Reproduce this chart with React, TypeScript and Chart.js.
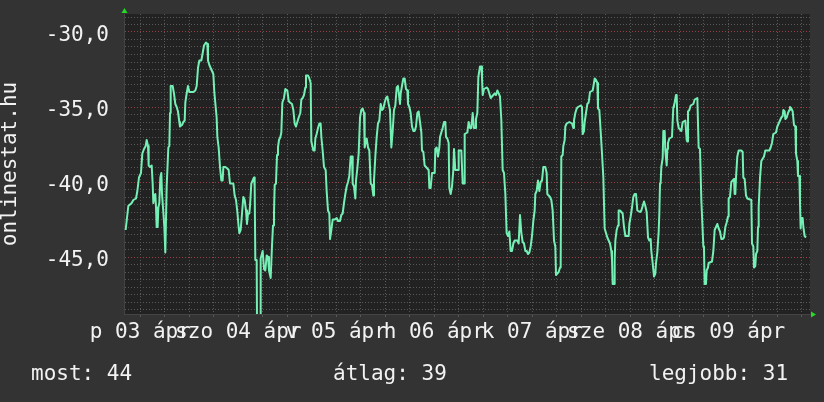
import React, { useEffect, useRef } from 'react';
import { Chart, registerables } from 'chart.js';

Chart.register(...registerables);

// hours since 03 Apr 08:00 (the left edge of the week shown)
const HOURS = [
  0.4, 0.65, 1.06, 1.88, 2.29, 2.94, 3.27, 3.67, 4.16, 4.49, 4.9, 5.31, 5.55, 5.88, 6.04, 6.37, 6.78, 7.02, 7.18, 7.43,
  7.67, 7.84, 8.0, 8.24, 8.41, 8.65, 8.9, 9.14, 9.31, 9.63, 9.88, 10.12, 10.45, 10.86, 11.1, 11.27, 11.43, 11.92, 12.24, 12.57,
  12.9, 13.22, 13.55, 13.71, 14.2, 14.53, 14.86, 15.02, 15.35, 15.67, 16.0, 16.49, 16.98, 17.47, 17.8, 18.12, 18.45, 18.94, 19.27, 19.59,
  20.08, 20.41, 20.57, 20.9, 21.22, 21.55, 21.88, 22.12, 22.45, 22.69, 22.86, 23.18, 23.51, 23.84, 24.16, 24.33, 24.82, 25.31, 25.63, 25.96,
  26.78, 27.1, 27.43, 27.76, 28.08, 28.24, 28.57, 28.9, 29.22, 29.55, 29.88, 30.12, 30.37, 30.69, 30.86, 31.18, 31.51, 31.84, 32.0, 32.16,
  32.49, 32.6, 33.35, 33.47, 33.96, 34.29, 34.61, 34.94, 35.27, 35.51, 35.92, 36.24, 36.49, 36.73, 36.9, 37.22, 37.47, 37.71, 37.96, 38.29,
  38.53, 38.78, 39.18, 39.51, 40.0, 40.33, 40.65, 41.14, 41.47, 41.8, 42.12, 42.45, 42.78, 43.18, 43.43, 43.76, 44.08, 44.41, 44.57, 45.06,
  45.39, 45.71, 45.88, 46.37, 46.69, 46.86, 47.18, 47.51, 47.84, 48.16, 48.33, 48.65, 48.98, 49.39, 49.63, 49.96, 50.29, 50.45, 50.78, 51.1,
  51.59, 52.08, 52.41, 52.9, 53.22, 53.55, 53.88, 54.2, 54.53, 54.86, 55.18, 55.51, 55.84, 56.0, 56.33, 56.65, 56.82, 57.14, 57.47, 57.8,
  58.12, 58.45, 58.78, 58.94, 59.27, 59.43, 59.76, 60.08, 60.41, 60.73, 61.06, 61.22, 61.55, 61.88, 62.2, 62.53, 62.86, 63.18, 63.51, 63.84,
  64.16, 64.49, 64.82, 65.14, 65.47, 65.8, 66.12, 66.45, 66.78, 67.1, 67.59, 67.76, 68.08, 68.41, 68.73, 69.06, 69.39, 69.55, 69.88, 70.2,
  70.53, 70.86, 71.18, 71.51, 71.84, 72.16, 72.49, 72.82, 72.98, 73.31, 73.63, 73.96, 74.61, 74.78, 75.1, 75.43, 76.08, 76.24, 76.57, 76.9,
  77.22, 77.39, 77.71, 78.04, 78.37, 78.69, 78.86, 79.18, 79.51, 79.67, 80.0, 80.33, 80.65, 80.82, 81.14, 81.8, 81.96, 82.61, 82.94, 83.27,
  83.43, 84.08, 84.41, 84.73, 85.06, 85.39, 85.71, 86.04, 86.2, 86.53, 86.78, 87.18, 87.51, 87.67, 87.84, 88.16, 88.82, 89.14, 89.47, 89.8,
  90.12, 90.45, 90.78, 91.1, 91.43, 91.76, 92.08, 92.41, 92.73, 93.06, 93.39, 93.71, 94.04, 94.37, 94.69, 95.02, 95.35, 95.67, 96.33, 96.65,
  96.98, 97.31, 97.63, 97.96, 98.29, 98.61, 98.94, 99.27, 99.59, 99.92, 100.24, 100.57, 100.73, 101.06, 101.39, 101.71, 102.04, 102.37, 102.69, 103.18,
  103.51, 103.67, 104.33, 104.65, 104.98, 105.31, 105.63, 105.8, 106.12, 106.45, 106.78, 106.94, 107.1, 107.43, 107.59, 107.92, 108.08, 108.41, 109.06, 109.71,
  110.04, 110.2, 110.53, 110.86, 111.18, 111.84, 112.16, 112.33, 112.65, 112.82, 113.14, 113.47, 113.8, 114.12, 114.78, 115.1, 115.27, 115.59, 115.92, 116.08,
  116.41, 116.73, 117.06, 117.39, 117.71, 118.04, 118.37, 118.69, 119.02, 119.35, 119.51, 119.67, 120.0, 120.16, 120.33, 120.65, 120.98, 121.14, 121.47, 121.8,
  122.12, 122.45, 122.78, 123.59, 123.76, 124.08, 124.41, 124.73, 125.06, 125.39, 125.71, 126.37, 126.69, 127.02, 127.35, 127.67, 128.0, 128.33, 128.65, 128.98,
  129.14, 129.47, 129.8, 130.12, 130.29, 130.61, 130.94, 131.1, 131.27, 131.43, 131.59, 131.92, 132.08, 132.41, 132.57, 132.9, 133.06, 133.22, 133.55, 134.2,
  134.53, 134.69, 134.86, 135.18, 135.35, 135.51, 135.84, 136.49, 136.82, 137.47, 137.8, 137.96, 138.12, 138.45, 138.78, 139.43, 139.76, 140.41, 140.73, 141.06,
  141.39, 141.55, 141.88, 142.04, 142.2, 142.53, 142.69, 143.02, 143.18, 144.0, 144.33, 144.65, 144.98, 145.31, 145.63, 145.96, 146.29, 146.61, 146.94, 147.27,
  147.59, 147.92, 148.08, 148.41, 148.73, 149.39, 149.55, 149.71, 149.88, 150.2, 150.53, 151.18, 151.51, 151.67, 152.0, 152.33, 152.65, 153.63, 153.8, 154.12,
  154.29, 154.61, 154.78, 155.1, 155.27, 155.43, 155.76, 155.92, 156.08, 156.73, 157.06, 158.04, 158.37, 158.69, 159.02, 159.67, 160.0, 160.33, 160.65, 160.98,
  161.31, 161.47, 161.8, 161.96, 162.29, 162.61, 162.94, 163.1, 163.43, 163.76, 164.08, 164.41, 164.57, 164.9, 165.06, 165.39, 165.55, 165.71, 165.88, 166.2,
  166.37, 166.69, 167.02,
];

// negative rank
const RANKS = [
  -43.2, -42.6, -41.6, -41.4, -41.2, -41.1, -40.6, -39.7, -39.4, -38.1, -37.8, -37.6, -37.2, -37.6, -38.9, -39.0, -38.9, -40.1, -41.4, -40.9,
  -40.8, -41.7, -43.0, -43.0, -41.7, -41.4, -39.7, -39.4, -40.8, -42.0, -43.0, -44.7, -40.3, -37.7, -37.6, -35.4, -33.6, -33.6, -34.1, -34.8,
  -35.0, -35.3, -36.0, -36.3, -36.2, -36.0, -35.9, -34.7, -34.1, -33.6, -34.0, -34.0, -34.0, -33.9, -33.6, -32.4, -31.9, -31.9, -31.4, -30.9,
  -30.7, -30.8, -31.9, -32.2, -32.4, -32.6, -32.8, -34.0, -35.0, -35.7, -37.0, -37.7, -39.0, -39.9, -39.9, -39.0, -39.0, -39.1, -39.2, -40.1,
  -40.1, -40.9, -41.2, -42.0, -43.0, -43.4, -43.2, -42.1, -41.0, -41.2, -41.9, -42.8, -42.1, -42.1, -41.6, -40.1, -39.9, -39.7, -40.3, -45.2,
  -45.2, -50.5, -50.5, -45.1, -44.6, -45.8, -45.9, -44.9, -45.0, -45.9, -46.4, -44.3, -42.9, -42.1, -40.2, -40.1, -38.2, -37.7, -37.2, -37.0,
  -36.7, -34.7, -34.4, -33.8, -33.9, -34.6, -34.7, -34.8, -35.2, -36.1, -36.3, -36.0, -35.7, -35.4, -34.5, -34.4, -34.2, -33.7, -32.9, -32.9,
  -33.1, -33.4, -37.3, -37.9, -37.9, -37.1, -36.8, -36.4, -36.1, -36.1, -37.0, -37.9, -39.0, -39.2, -40.6, -41.9, -42.1, -43.8, -43.2, -42.5,
  -42.5, -42.4, -42.6, -42.6, -42.2, -42.1, -41.4, -40.8, -40.3, -40.0, -39.6, -38.3, -38.3, -40.1, -40.3, -41.1, -39.9, -39.1, -38.1, -35.7,
  -35.2, -35.1, -35.4, -37.7, -37.2, -37.1, -37.7, -37.9, -40.1, -40.2, -40.9, -39.9, -38.3, -37.0, -36.1, -35.9, -34.8, -35.2, -35.1, -34.7,
  -34.4, -34.3, -34.8, -35.2, -37.7, -36.6, -35.2, -34.9, -33.7, -33.6, -34.8, -34.1, -33.6, -33.1, -33.1, -33.8, -33.9, -34.8, -35.0, -35.4,
  -36.3, -36.6, -36.6, -36.3, -35.4, -35.3, -36.0, -36.7, -37.9, -38.0, -38.9, -39.0, -39.2, -40.4, -40.4, -39.4, -39.4, -37.8, -37.7, -38.3,
  -37.7, -37.0, -36.7, -36.4, -36.0, -36.0, -37.0, -37.1, -37.4, -40.4, -40.8, -40.3, -39.2, -37.8, -39.2, -39.2, -37.9, -37.9, -40.1, -40.1,
  -36.8, -36.7, -36.0, -36.4, -36.4, -35.4, -36.4, -36.4, -35.8, -35.4, -33.0, -32.3, -32.3, -33.0, -34.2, -33.8, -33.7, -33.8, -34.1, -34.4,
  -34.3, -34.2, -34.1, -34.2, -33.9, -34.1, -34.3, -35.9, -39.2, -39.4, -40.8, -43.4, -43.6, -43.3, -44.6, -44.6, -44.1, -43.9, -43.9, -44.1,
  -42.2, -43.4, -44.0, -44.1, -44.6, -44.6, -44.8, -44.7, -44.3, -43.6, -42.6, -41.9, -40.8, -40.6, -39.9, -40.6, -40.0, -39.9, -39.0, -39.0,
  -39.4, -40.8, -41.0, -41.2, -41.9, -43.9, -44.3, -46.2, -46.1, -46.0, -45.7, -45.4, -38.3, -38.2, -37.6, -37.2, -36.3, -36.1, -36.0, -36.1,
  -36.4, -35.9, -35.4, -35.1, -35.0, -34.9, -35.0, -36.8, -36.6, -36.0, -35.4, -34.8, -34.7, -34.0, -33.9, -33.4, -33.1, -33.2, -33.4, -35.1,
  -35.2, -36.6, -38.1, -39.7, -43.1, -43.4, -43.7, -43.9, -44.1, -44.6, -45.2, -46.8, -46.8, -45.2, -43.9, -43.2, -42.9, -41.9, -41.9, -42.0,
  -42.1, -43.0, -43.6, -43.6, -42.8, -42.3, -41.7, -41.0, -40.8, -40.8, -41.9, -42.0, -41.9, -41.6, -41.3, -41.6, -42.0, -43.7, -43.9, -43.8,
  -44.6, -45.4, -46.3, -46.1, -45.4, -44.7, -43.3, -42.1, -40.1, -40.0, -39.0, -38.4, -36.6, -36.6, -37.9, -38.9, -37.8, -37.4, -37.1, -37.0,
  -35.0, -34.9, -34.7, -34.2, -34.2, -35.9, -36.4, -36.6, -36.0, -35.9, -37.2, -37.3, -35.3, -35.2, -34.9, -34.8, -34.5, -34.4, -37.7, -37.8,
  -41.2, -41.2, -44.3, -44.4, -46.8, -46.8, -45.9, -45.7, -45.4, -45.3, -44.6, -43.2, -43.0, -42.8, -43.1, -43.3, -43.8, -43.8, -43.7, -43.0,
  -42.7, -42.3, -41.1, -41.0, -40.0, -39.8, -40.8, -40.8, -39.7, -38.3, -37.9, -37.9, -38.0, -39.7, -39.8, -40.9, -41.1, -41.2, -44.1, -44.3,
  -45.7, -45.6, -44.8, -44.6, -43.0, -41.7, -39.7, -39.7, -38.6, -38.3, -37.9, -37.9, -37.7, -37.4, -36.8, -36.7, -36.3, -36.1, -35.9, -35.7,
  -35.6, -35.2, -35.3, -35.8, -35.7, -35.4, -35.2, -35.0, -35.1, -35.3, -36.2, -36.3, -38.1, -38.6, -39.6, -39.6, -41.4, -43.1, -42.4, -42.4,
  -43.0, -43.6, -43.7,
];

const DAY_LABELS = ['p 03 ápr', 'szo 04 ápr', 'v 05 ápr', 'h 06 ápr', 'k 07 ápr', 'sze 08 ápr', 'cs 09 ápr'];
const FIRST_NOON = 4; // hours after the left edge
const FIRST_MIDNIGHT = 16;
const X_MIN = 0;
const X_MAX = 168;
const Y_MIN = -48.8;
const Y_MAX = -28.8;
const AXIS_TITLE = 'onlinestat.hu';
const SUMMARY_LABELS = ['most', 'átlag', 'legjobb'];
const SUMMARY_VALUES = [44, 39, 31];

const FONT = 'DejaVu Sans Mono';
const TEXT = '#f2f2f2';
const GRID_MINOR = '#585858';
const GRID_MAJOR = '#9a4040';
const LINE = '#74f0b5';

const rrdPlugin = {
  id: 'rrdLook',
  beforeDraw(chart: any) {
    const { ctx, chartArea: a } = chart;
    ctx.save();
    ctx.fillStyle = '#333333';
    ctx.fillRect(0, 0, chart.width, chart.height);
    ctx.fillStyle = '#222222';
    ctx.fillRect(a.left, a.top, a.right - a.left, a.bottom - a.top);
    ctx.restore();
  },
  afterDraw(chart: any) {
    const { ctx, chartArea: a } = chart;
    ctx.save();
    ctx.fillStyle = '#22dd22';
    ctx.beginPath();
    ctx.moveTo(a.left - 2.5, a.top - 1);
    ctx.lineTo(a.left + 3.5, a.top - 1);
    ctx.lineTo(a.left + 0.5, a.top - 6);
    ctx.closePath();
    ctx.fill();
    ctx.beginPath();
    ctx.moveTo(a.right + 1, a.bottom - 2.5);
    ctx.lineTo(a.right + 1, a.bottom + 3.5);
    ctx.lineTo(a.right + 6, a.bottom + 0.5);
    ctx.closePath();
    ctx.fill();
    ctx.restore();
  },
};

export default function App() {
  const ref = useRef<HTMLCanvasElement | null>(null);

  useEffect(() => {
    if (!ref.current) return;
    const isMajorX = (v: number) => (v - FIRST_MIDNIGHT) % 24 === 0;
    const isMajorY = (v: number) => Math.round(v * 2) % 10 === 0;
    const chart = new Chart(ref.current, {
      type: 'line',
      data: {
        datasets: [
          {
            data: HOURS.map((h, i) => ({ x: h, y: RANKS[i] })),
            borderColor: LINE,
            borderWidth: 2,
            pointRadius: 0,
            tension: 0,
            borderJoinStyle: 'round',
            clip: 0,
          } as any,
        ],
      },
      options: {
        animation: false,
        responsive: false,
        devicePixelRatio: 1,
        layout: { padding: { top: 14, right: 14, left: 0, bottom: 0 } },
        plugins: { legend: { display: false }, tooltip: { enabled: false } },
        scales: {
          x: {
            type: 'linear',
            min: X_MIN,
            max: X_MAX,
            afterBuildTicks: (s: any) => {
              const t = [];
              for (let h = FIRST_NOON; h <= X_MAX; h += 6) t.push({ value: h });
              s.ticks = t;
            },
            afterFit: (s: any) => {
              s.height = 88;
              s.paddingLeft = 0;
              s.paddingRight = 0;
              s.paddingTop = 0;
              s.paddingBottom = 0;
            },
            ticks: {
              autoSkip: false,
              maxRotation: 0,
              minRotation: 0,
              padding: 3,
              color: TEXT,
              font: { family: FONT, size: 21 },
              callback: (v: any) => {
                const d = (Number(v) - FIRST_NOON) / 24;
                return Number.isInteger(d) ? DAY_LABELS[d] ?? '' : '';
              },
            },
            grid: {
              color: (c: any) => (c.tick && isMajorX(c.tick.value) ? GRID_MAJOR : GRID_MINOR),
              tickColor: (c: any) => (c.tick && isMajorX(c.tick.value) ? GRID_MAJOR : GRID_MINOR),
              tickLength: 3,
              lineWidth: 1,
            },
            border: { display: true, color: '#444444', dash: [1, 2] },
          },
          y: {
            type: 'linear',
            min: Y_MIN,
            max: Y_MAX,
            afterBuildTicks: (s: any) => {
              const t = [];
              for (let k = Math.ceil(Y_MIN * 2); k <= Math.floor(Y_MAX * 2); k++) t.push({ value: k / 2 });
              s.ticks = t;
            },
            afterFit: (s: any) => {
              s.width = 124;
              s.paddingLeft = 0;
              s.paddingRight = 0;
              s.paddingTop = 0;
              s.paddingBottom = 0;
            },
            ticks: {
              autoSkip: false,
              padding: 15,
              labelOffset: 4,
              color: TEXT,
              font: { family: FONT, size: 21 },
              callback: (v: any) => (isMajorY(Number(v)) ? Number(v).toFixed(1).replace('.', ',') : ''),
            },
            grid: {
              color: (c: any) => (c.tick && isMajorY(c.tick.value) ? GRID_MAJOR : GRID_MINOR),
              drawTicks: false,
              lineWidth: 1,
            },
            border: { display: true, color: '#444444', dash: [1, 2] },
            title: {
              display: true,
              text: AXIS_TITLE,
              color: TEXT,
              font: { family: FONT, size: 21, lineHeight: 1 },
              padding: { top: 0.5, bottom: 0 },
            },
          },
        },
      },
      plugins: [rrdPlugin],
    });
    return () => chart.destroy();
  }, []);

  const lefts = [31, 333, 649];
  return (
    <div style={{ position: 'fixed', left: 0, top: 0, width: 824, height: 402, background: '#333333' }}>
      <canvas ref={ref} width={824} height={402} style={{ width: 824, height: 402, display: 'block' }} />
      {SUMMARY_LABELS.map((l, i) => (
        <div
          key={l}
          style={{
            position: 'absolute',
            left: lefts[i],
            top: 361,
            font: `21px "${FONT}"`,
            lineHeight: '25px',
            color: TEXT,
            whiteSpace: 'pre',
          }}
        >
          {`${l}: ${SUMMARY_VALUES[i]}`}
        </div>
      ))}
    </div>
  );
}
